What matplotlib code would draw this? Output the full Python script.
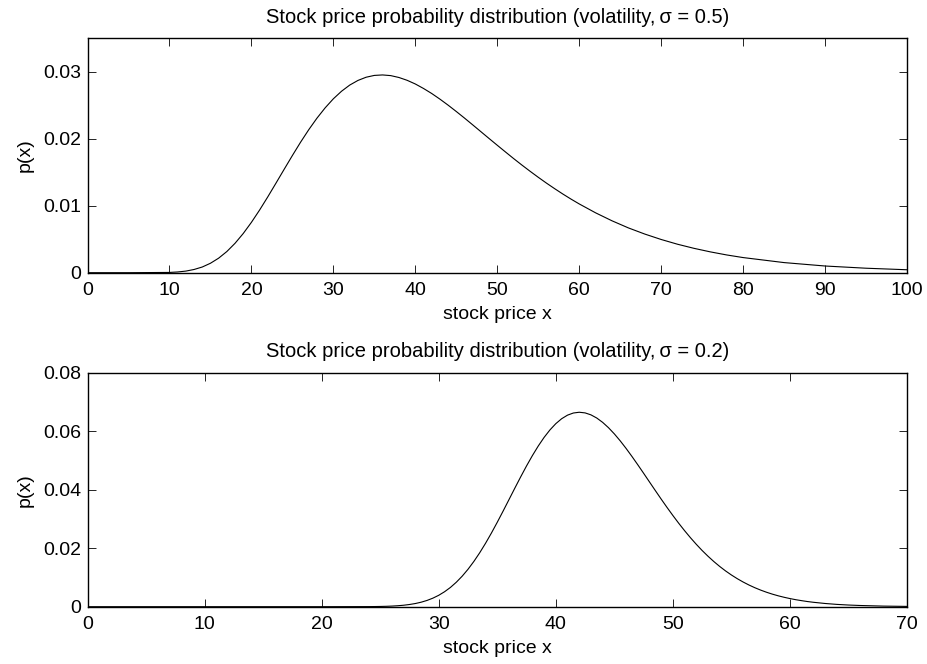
import matplotlib
matplotlib.use("Agg")
import matplotlib.pyplot as plt

# ---------- data ----------
# sigma = 0.5 panel
price_hi = [0, 5,
            10, 11, 12, 13, 14, 15, 16, 17, 18, 19, 20, 21, 22, 23, 24, 25, 26,
            27, 28, 29, 30, 31, 32, 33, 34, 35, 36, 37, 38, 39, 40, 41, 42, 43,
            44, 45, 46, 47, 48, 49, 50, 51, 52, 53, 54, 55, 56, 57, 58, 59, 60,
            62, 64, 66, 68, 70, 72, 74, 76, 78, 80,
            85, 90, 95, 100]
dens_hi = [0.0, 0.0,
           0.00004, 0.00011, 0.00024, 0.00048, 0.00085, 0.00141, 0.00217,
           0.00316, 0.00439, 0.00585, 0.00752, 0.00936, 0.01133, 0.01338,
           0.01545, 0.01750, 0.01949, 0.02136, 0.02308, 0.02462, 0.02597,
           0.02710, 0.02802, 0.02871, 0.02919, 0.02946, 0.02953, 0.02943,
           0.02915, 0.02873, 0.02818, 0.02751, 0.02676, 0.02592, 0.02502,
           0.02407, 0.02309, 0.02208, 0.02106, 0.02004, 0.01903, 0.01803,
           0.01704, 0.01608, 0.01515, 0.01425, 0.01338, 0.01255, 0.01175,
           0.01099, 0.01027,
           0.00894, 0.00775, 0.00669, 0.00577, 0.00496, 0.00425, 0.00364,
           0.00311, 0.00265, 0.00226,
           0.00151, 0.00100, 0.00067, 0.00044]

# sigma = 0.2 panel
price_lo = [0, 10, 20,
            24, 24.5, 25, 25.5, 26, 26.5, 27, 27.5, 28, 28.5, 29, 29.5,
            30, 30.5, 31, 31.5, 32, 32.5, 33, 33.5, 34, 34.5, 35, 35.5,
            36, 36.5, 37, 37.5, 38, 38.5, 39, 39.5, 40, 40.5, 41, 41.5,
            42, 42.5, 43, 43.5, 44, 44.5, 45, 45.5, 46, 46.5, 47, 47.5,
            48, 48.5, 49, 49.5, 50, 50.5, 51, 51.5, 52, 52.5, 53, 53.5,
            54, 54.5, 55, 55.5, 56, 56.5, 57, 57.5, 58, 58.5, 59, 59.5,
            60, 60.5, 61, 61.5, 62,
            63, 64, 65, 66, 68, 70]
dens_lo = [0.0, 0.0, 0.0,
           0.00003, 0.00005, 0.00008, 0.00013, 0.00021, 0.00033, 0.00050,
           0.00075, 0.00108, 0.00154, 0.00214, 0.00292,
           0.00390, 0.00512, 0.00659, 0.00836, 0.01042, 0.01279, 0.01547,
           0.01844, 0.02169, 0.02518, 0.02887, 0.03270,
           0.03661, 0.04053, 0.04439, 0.04813, 0.05166, 0.05493, 0.05788,
           0.06044, 0.06258, 0.06427, 0.06549, 0.06622,
           0.06648, 0.06626, 0.06559, 0.06450, 0.06302, 0.06120, 0.05908,
           0.05671, 0.05413, 0.05139, 0.04854, 0.04562,
           0.04266, 0.03971, 0.03679, 0.03394, 0.03118, 0.02852, 0.02599,
           0.02359, 0.02133, 0.01921, 0.01725, 0.01543,
           0.01376, 0.01223, 0.01084, 0.00958, 0.00844, 0.00741, 0.00649,
           0.00567, 0.00494, 0.00429, 0.00372, 0.00322,
           0.00278, 0.00239, 0.00206, 0.00176, 0.00151,
           0.00110, 0.00079, 0.00057, 0.00041, 0.00020, 0.00010]

titles = ["Stock price probability distribution (volatility,\u2009\u03c3 = 0.5)",
          "Stock price probability distribution (volatility,\u2009\u03c3 = 0.2)"]
xticks_hi = [0, 10, 20, 30, 40, 50, 60, 70, 80, 90, 100]
yticks_hi = [0, 0.01, 0.02, 0.03]
xticks_lo = [0, 10, 20, 30, 40, 50, 60, 70]
yticks_lo = [0, 0.02, 0.04, 0.06, 0.08]

plt.rcParams.update({
    "font.family": ["Liberation Sans", "DejaVu Sans"],
    "font.size": 14,
    "axes.linewidth": 1.0,
    "xtick.direction": "in",
    "ytick.direction": "in",
    "xtick.top": True,
    "ytick.right": True,
    "xtick.major.size": 5.5,
    "ytick.major.size": 5.5,
    "xtick.major.width": 0.6,
    "ytick.major.width": 0.6,
    "xtick.major.pad": 7,
    "ytick.major.pad": 4.5,
})

fig = plt.figure(figsize=(9.28, 6.64), dpi=100)
ax1 = fig.add_axes([0.0943, 0.5893, 0.8831, 0.3530])
ax2 = fig.add_axes([0.0943, 0.0863, 0.8831, 0.3524])

panels = [
    (ax1, price_hi, dens_hi, titles[0], xticks_hi, yticks_hi, (0, 100), (0, 0.035)),
    (ax2, price_lo, dens_lo, titles[1], xticks_lo, yticks_lo, (0, 70), (0, 0.08)),
]
for ax, xs, ys, title, xt, yt, xl, yl in panels:
    ax.plot(xs, ys, color="black", linewidth=0.8)
    ax.set_xlim(*xl)
    ax.set_ylim(*yl)
    ax.set_xticks(xt)
    ax.set_yticks(yt)
    ax.set_xticklabels([str(v) for v in xt])
    ax.set_yticklabels(["0" if v == 0 else f"{v:g}" for v in yt])
    ax.set_xlabel("stock price x", labelpad=5)
    ax.set_ylabel("p(x)", labelpad=7)
    ax.set_title(title, fontsize=14.5, pad=11)

fig.savefig("out.png", dpi=100)
